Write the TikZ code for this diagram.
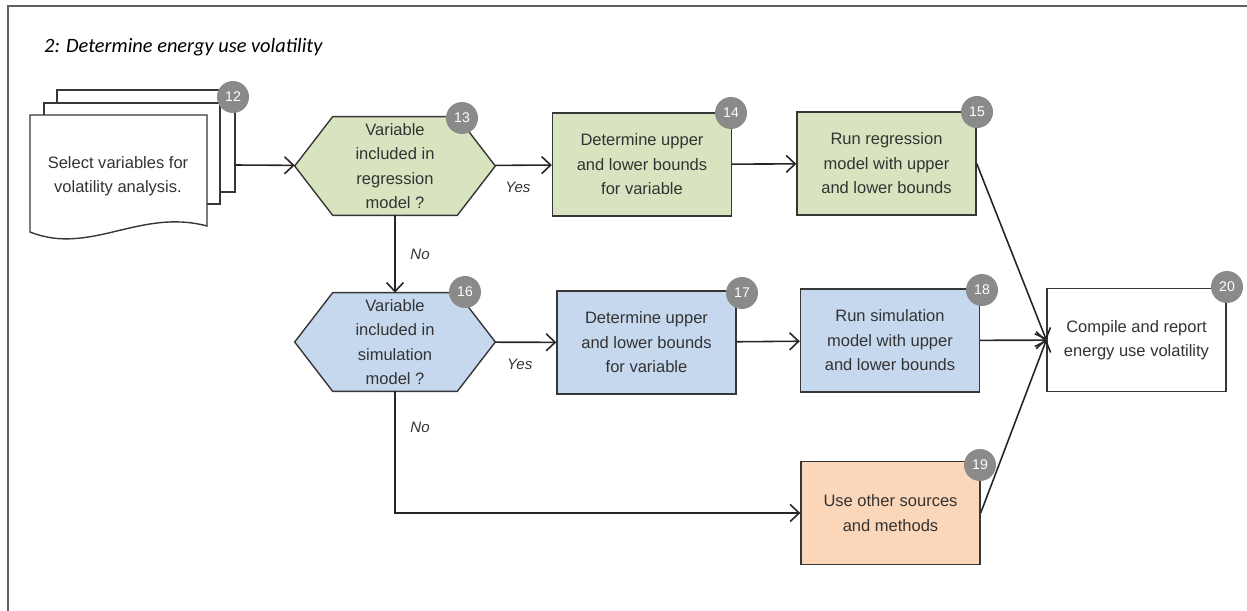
\documentclass[tikz,border=0pt]{standalone}
\usepackage{fontspec}
\setmainfont{Liberation Sans}
\newfontfamily\titlefont{Carlito}
\usetikzlibrary{arrows.meta}
\usetikzlibrary{backgrounds}

\definecolor{regfill}{RGB}{216,228,192}
\definecolor{simfill}{RGB}{198,216,238}
\definecolor{othfill}{RGB}{252,214,184}
\definecolor{badgegray}{RGB}{138,138,138}
\definecolor{edgegray}{RGB}{55,55,55}

\tikzset{
  stepbox/.style={draw=edgegray,line width=0.8pt,minimum width=3.58cm,minimum height=2.06cm,align=center,text=black!80,font=\fontsize{9.4}{13.9}\selectfont},
  hexnode/.style={minimum width=4cm,minimum height=1.96cm,inner sep=0pt,align=center,text=black!80,font=\fontsize{9.4}{13.9}\selectfont},
  badge/.style={circle,fill=badgegray,minimum size=0.64cm,inner sep=0pt,text=white,font=\fontsize{8}{8}\selectfont},
  lbl/.style={font=\itshape\fontsize{8.6}{10}\selectfont,text=black!80}
}

\begin{document}
\begin{tikzpicture}[x=0.02cm,y=-0.02cm]
\useasboundingbox (0,0) rectangle (1247,611);
\draw[gray!75!black,line width=1.1pt] (8,611) -- (8,6) -- (1247,6);

\node[anchor=base west] (title) at (38,53) {\titlefont\itshape\fontsize{11.6}{14}\selectfont 2: Determine energy use volatility};

% stack of pages
\draw[edgegray,line width=0.8pt,fill=white] (57,90) rectangle (235,192);
\draw[edgegray,line width=0.8pt,fill=white] (44,103) rectangle (220,204);
\draw[edgegray,line width=0.8pt,fill=white] (30,115) -- (207,115) -- (207,226)
  .. controls (140,208) and (90,256) .. (30,232) -- cycle;
\coordinate (stack) at (235,165);

\node[align=center,text=black!80,font=\fontsize{9.4}{13.9}\selectfont] (select) at (118,176) {Select variables for\\volatility analysis.};

\node[hexnode] (regq) at (395,166) {Variable\\included in\\regression\\model ?};
\node[hexnode] (simq) at (395,342) {Variable\\included in\\simulation\\model ?};

\begin{scope}[on background layer]
\foreach \q/\c in {regq/regfill,simq/simfill}
  \draw[edgegray,line width=0.8pt,fill=\c] (\q.west) -- ([xshift=0.76cm]\q.north west)
    -- ([xshift=-0.76cm]\q.north east) -- (\q.east) -- ([xshift=-0.76cm]\q.south east)
    -- ([xshift=0.76cm]\q.south west) -- cycle;
\end{scope}

\node[stepbox,fill=regfill] (regbounds) at (642,164.5) {Determine upper\\and lower bounds\\for variable};
\node[stepbox,fill=regfill] (regrun) at (886.5,163.5) {Run regression\\model with upper\\and lower bounds};
\node[stepbox,fill=simfill] (simbounds) at (646.5,342.5) {Determine upper\\and lower bounds\\for variable};
\node[stepbox,fill=simfill] (simrun) at (890,340.5) {Run simulation\\model with upper\\and lower bounds};
\node[stepbox,fill=othfill] (other) at (890.5,513) {Use other sources\\and methods};
\node[stepbox,fill=white] (report) at (1136.5,340) {Compile and report\\energy use volatility};

\begin{scope}[every node/.style={badge}]
    \node (n12) at (233,97) {12};
    \node (n13) at (462,118) {13};
    \node (n14) at (731,113) {14};
    \node (n15) at (977,112) {15};
    \node (n16) at (465,292) {16};
    \node (n17) at (742,293) {17};
    \node (n18) at (982,290) {18};
    \node (n19) at (980,465) {19};
    \node (n20) at (1227,287) {20};
\end{scope}

\begin{scope}[>={Straight Barb[length=1.8mm,width=3.4mm]},
              every node/.style={lbl},
              every edge/.style={draw=black!85,line width=0.9pt}]
    \path [->] (stack) edge (regq);
    \path [->] (regq) edge node[pos=0.4,below=6pt] {Yes} (regbounds);
    \path [->] (regbounds) edge (regrun);
    \path [->] (regq) edge node[right=5pt] {No} (simq);
    \path [->] (simq) edge node[pos=0.4,below=6pt] {Yes} (simbounds);
    \path [->] (simbounds) edge (simrun);
    \path [->] (regrun.east) edge (report.west);
    \path [->] (simrun) edge (report);
    \path [->] (other.east) edge (report.west);
    \draw [->,black!85,line width=0.9pt] (simq.south) |- node[pos=0.15,right=5pt] {No} (other.west);
\end{scope}

\end{tikzpicture}
\end{document}
